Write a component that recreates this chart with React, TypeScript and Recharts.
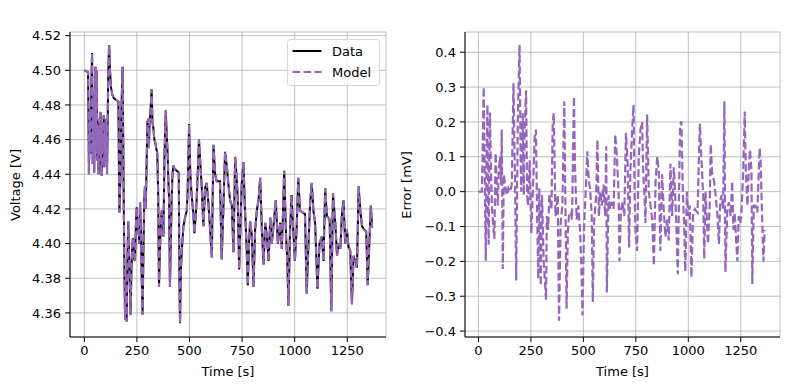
import React from 'react';
import { LineChart, Line, XAxis, YAxis, CartesianGrid, Legend, Label } from 'recharts';

const timeV = [0,18,22,26,30,34,37,40,44,47,50,53,56,59,62,65,68,71,74,77,80,83,86,89,92,95,99,102,105,108,111,114,118,122,127,133,140,150,162,165,167,172,177,182,187,191,194,197,201,205,209,213,217,220,224,228,231,235,241,245,249,253,257,261,265,269,273,277,281,285,288,292,296,300,304,307,310,314,320,324,328,333,338,342,347,351,355,358,363,368,372,376,381,387,392,396,400,403,407,411,415,419,423,430,439,449,452,455,459,463,471,479,487,491,498,504,510,518,523,529,534,539,545,552,558,566,574,582,590,598,606,614,622,629,645,653,661,669,677,685,693,701,709,717,723,729,736,742,748,756,764,771,777,783,788,796,804,812,820,828,836,844,852,860,868,876,884,891,899,910,920,931,939,945,950,959,965,970,974,977,985,993,1001,1009,1017,1025,1038,1049,1057,1065,1073,1081,1089,1097,1108,1118,1129,1137,1145,1153,1166,1174,1182,1193,1201,1209,1217,1224,1232,1240,1248,1256,1264,1272,1280,1288,1296,1304,1312,1320,1331,1340,1347,1356,1362,1368];
const voltage = [4.500,4.499,4.440,4.478,4.452,4.495,4.510,4.446,4.488,4.441,4.470,4.502,4.455,4.500,4.448,4.466,4.440,4.472,4.452,4.476,4.446,4.439,4.468,4.456,4.474,4.444,4.466,4.448,4.472,4.440,4.470,4.500,4.5145,4.500,4.490,4.486,4.484,4.483,4.482,4.440,4.418,4.440,4.480,4.502,4.430,4.380,4.356,4.380,4.355,4.390,4.413,4.392,4.375,4.359,4.385,4.398,4.403,4.392,4.390,4.410,4.421,4.405,4.415,4.400,4.424,4.408,4.380,4.359,4.395,4.425,4.433,4.420,4.445,4.470,4.472,4.455,4.469,4.475,4.489,4.470,4.467,4.460,4.458,4.455,4.452,4.430,4.375,4.390,4.410,4.419,4.412,4.404,4.450,4.477,4.462,4.452,4.435,4.425,4.375,4.400,4.425,4.440,4.445,4.443,4.442,4.441,4.380,4.354,4.385,4.395,4.410,4.415,4.419,4.430,4.469,4.440,4.428,4.418,4.406,4.415,4.425,4.440,4.460,4.445,4.433,4.410,4.432,4.435,4.423,4.408,4.392,4.457,4.440,4.436,4.436,4.391,4.420,4.453,4.445,4.434,4.425,4.422,4.395,4.450,4.440,4.427,4.385,4.410,4.434,4.447,4.419,4.400,4.376,4.400,4.413,4.405,4.375,4.408,4.419,4.425,4.438,4.408,4.388,4.412,4.404,4.390,4.415,4.400,4.410,4.425,4.400,4.412,4.397,4.420,4.442,4.404,4.390,4.364,4.385,4.404,4.428,4.408,4.390,4.408,4.438,4.419,4.418,4.417,4.371,4.398,4.423,4.435,4.419,4.412,4.374,4.400,4.404,4.390,4.432,4.416,4.414,4.361,4.429,4.412,4.393,4.400,4.397,4.416,4.425,4.400,4.408,4.398,4.396,4.365,4.393,4.390,4.386,4.433,4.419,4.410,4.408,4.407,4.376,4.404,4.422,4.409];
// Model overlaps the measured data to within a fraction of a millivolt
const modelVoltage = voltage;

const timeE = [0,16,20,25,30,35,39,43,46,49,52,55,60,65,71,76,79,82,87,92,97,103,108,111,116,121,127,135,143,151,159,167,175,180,188,196,201,204,211,216,220,227,232,236,244,252,260,268,274,279,285,290,297,303,311,322,326,332,338,348,354,359,367,378,384,392,400,409,414,420,426,432,440,446,455,460,468,476,484,490,496,503,511,519,526,532,540,545,551,561,567,574,580,588,596,604,609,612,620,628,636,644,652,660,668,672,679,687,695,703,711,718,724,732,739,744,748,756,764,772,780,785,791,796,804,812,820,828,836,844,852,859,867,875,883,891,899,907,915,923,931,939,944,950,961,967,974,980,986,993,999,1007,1015,1023,1031,1044,1055,1063,1071,1076,1082,1088,1094,1102,1107,1114,1123,1130,1139,1146,1152,1158,1166,1172,1177,1186,1193,1202,1209,1215,1221,1229,1234,1240,1247,1253,1261,1269,1274,1282,1288,1294,1301,1305,1312,1320,1329,1340,1345,1351,1358,1364];
const errorMv = [0.0,0.0,0.10,0.30,0.05,-0.198,0.10,0.249,-0.05,-0.152,0.10,0.227,0.05,-0.05,-0.10,-0.136,0.0,0.111,0.02,-0.04,0.06,0.10,0.02,0.178,-0.222,0.05,0.02,-0.01,0.01,0.0,0.02,0.311,0.0,-0.255,0.22,0.421,0.10,0.0,0.225,-0.01,0.18,0.29,-0.01,-0.04,0.09,-0.12,0.01,0.159,0.178,-0.04,-0.25,0.01,-0.27,-0.01,-0.20,-0.31,-0.07,-0.11,-0.01,-0.05,0.197,0.225,-0.07,-0.01,-0.37,-0.09,-0.04,0.259,-0.01,-0.336,-0.12,-0.06,-0.06,-0.08,0.273,0.08,-0.08,-0.04,-0.11,-0.21,-0.355,-0.11,0.0,0.116,0.03,0.01,-0.07,-0.317,-0.09,-0.01,0.149,-0.07,0.0,-0.04,0.02,-0.07,0.13,-0.289,-0.01,-0.05,-0.03,-0.05,0.164,0.10,-0.01,-0.20,-0.05,-0.03,-0.07,0.169,0.08,-0.16,0.06,0.17,0.249,0.0,-0.11,-0.17,0.10,0.178,0.20,0.06,-0.01,-0.09,0.221,0.0,-0.04,-0.08,-0.212,0.03,0.10,0.06,-0.17,0.05,-0.05,-0.13,-0.08,-0.14,0.08,-0.07,0.07,-0.03,-0.11,-0.237,0.19,0.202,0.0,-0.09,-0.229,0.0,-0.07,-0.04,-0.246,-0.06,-0.05,-0.06,0.195,0.09,-0.01,-0.193,0.0,-0.07,-0.15,-0.04,0.136,0.05,0.03,-0.01,-0.07,-0.15,-0.03,-0.01,-0.05,0.259,-0.23,-0.05,-0.03,-0.07,0.03,-0.11,-0.06,-0.15,-0.20,-0.07,-0.09,-0.07,0.05,0.23,0.06,-0.04,0.06,0.121,0.06,-0.265,-0.04,-0.04,-0.06,0.125,0.08,-0.06,-0.20,-0.11];

const timeTicks = [0, 250, 500, 750, 1000, 1250];
const voltageTicks = [4.36, 4.38, 4.40, 4.42, 4.44, 4.46, 4.48, 4.50, 4.52];
const errorTicks = [-0.4, -0.3, -0.2, -0.1, 0, 0.1, 0.2, 0.3, 0.4];

const seriesNames = ['Data', 'Model'];
const titleText = 'RMSE = 0.11 mV';

const voltRows = timeV.map((t, i) => ({ t, data: voltage[i], model: modelVoltage[i] }));
const errRows = timeE.map((t, i) => ({ t, err: errorMv[i] }));

const FONT = '"DejaVu Sans", sans-serif';
const PURPLE = '#9467bd';
const DASH = '7.7 3.3';
const LW = 2.2;
const tickStyle = { fill: '#000', fontSize: 13, fontFamily: FONT };
const fmtMinus = (s: string) => s.replace('-', '\u2212');

const LegendBox = () => (
  <svg width={93} height={47} style={{ display: 'block' }}>
    <rect x={0.5} y={0.5} width={92} height={46} rx={3} ry={3} fill="rgba(255,255,255,0.8)" stroke="#d6d6d6" />
    <line x1={5.5} x2={34.5} y1={12} y2={12} stroke="#000" strokeWidth={2} />
    <line x1={5.5} x2={34.5} y1={33} y2={33} stroke={PURPLE} strokeWidth={2} strokeDasharray={DASH} />
    <text x={45} y={16.5} fontSize={13} fontFamily={FONT} fill="#000">{seriesNames[0]}</text>
    <text x={45} y={37.5} fontSize={13} fontFamily={FONT} fill="#000">{seriesNames[1]}</text>
  </svg>
);

export default function App() {
  return (
    <div style={{ position: 'absolute', left: 0, top: 0, width: 790, height: 390, background: '#fff' }}>
      <div style={{ position: 'absolute', left: 0, top: 0 }}>
        <LineChart width={400} height={390} data={voltRows} margin={{ top: 32, right: 14, bottom: 0, left: 0 }}>
          <CartesianGrid stroke="#b0b0b0" strokeWidth={0.8} />
          <XAxis dataKey="t" type="number" domain={[-68, 1434]} allowDataOverflow ticks={timeTicks} interval={0}
            height={53} tick={tickStyle} tickSize={5} tickMargin={4} tickLine={{ stroke: '#000' }} axisLine={{ stroke: '#000' }}>
            <Label content={(p: any) => (
              <text x={p.viewBox.x + p.viewBox.width / 2} y={376} textAnchor="middle" fontSize={13} fontFamily={FONT} fill="#000">Time [s]</text>
            )} />
          </XAxis>
          <XAxis xAxisId="top" orientation="top" type="number" domain={[0, 1]} height={0} tick={false} tickLine={false} axisLine={{ stroke: '#000' }} />
          <YAxis type="number" domain={[4.3461, 4.5221]} allowDataOverflow ticks={voltageTicks} interval={0} width={70}
            tick={tickStyle} tickSize={5} tickMargin={4} tickLine={{ stroke: '#000' }} axisLine={{ stroke: '#000' }}
            tickFormatter={(v: number) => v.toFixed(2)}>
            <Label content={() => (
              <text x={20} y={185} transform="rotate(-90 20 185)" textAnchor="middle" fontSize={13} fontFamily={FONT} fill="#000">Voltage [V]</text>
            )} />
          </YAxis>
          <YAxis yAxisId="right" orientation="right" type="number" domain={[0, 1]} width={0} tick={false} tickLine={false} axisLine={{ stroke: '#000' }} />
          <Legend content={() => <LegendBox />} wrapperStyle={{ left: 287, top: 39, width: 93 }} layout="horizontal" verticalAlign="middle" align="center" />
          <Line dataKey="data" name={seriesNames[0]} stroke="#000" strokeWidth={2} dot={false} isAnimationActive={false} />
          <Line dataKey="model" name={seriesNames[1]} stroke={PURPLE} strokeWidth={LW} strokeDasharray={DASH} dot={false} isAnimationActive={false} />
        </LineChart>
      </div>
      <div style={{ position: 'absolute', left: 400, top: 0 }}>
        <LineChart width={390} height={390} data={errRows} margin={{ top: 32, right: 10, bottom: 0, left: 0 }}>
          <CartesianGrid stroke="#b0b0b0" strokeWidth={0.8} />
          <XAxis dataKey="t" type="number" domain={[-64, 1437]} allowDataOverflow ticks={timeTicks} interval={0}
            height={53} tick={tickStyle} tickSize={5} tickMargin={4} tickLine={{ stroke: '#000' }} axisLine={{ stroke: '#000' }}>
            <Label content={(p: any) => (
              <text x={p.viewBox.x + p.viewBox.width / 2} y={376} textAnchor="middle" fontSize={13} fontFamily={FONT} fill="#000">Time [s]</text>
            )} />
          </XAxis>
          <XAxis xAxisId="top" orientation="top" type="number" domain={[0, 1]} height={0} tick={false} tickLine={false} axisLine={{ stroke: '#000' }}>
            <Label content={(p: any) => (
              <text x={p.viewBox.x + p.viewBox.width / 2} y={24} textAnchor="middle" fontSize={16.5} fontFamily={FONT} fill="#000">{titleText}</text>
            )} />
          </XAxis>
          <YAxis type="number" domain={[-0.417, 0.458]} allowDataOverflow ticks={errorTicks} interval={0} width={65}
            tick={tickStyle} tickSize={5} tickMargin={4} tickLine={{ stroke: '#000' }} axisLine={{ stroke: '#000' }}
            tickFormatter={(v: number) => fmtMinus(v.toFixed(1))}>
            <Label content={() => (
              <text x={11} y={185} transform="rotate(-90 11 185)" textAnchor="middle" fontSize={13} fontFamily={FONT} fill="#000">Error [mV]</text>
            )} />
          </YAxis>
          <YAxis yAxisId="right" orientation="right" type="number" domain={[0, 1]} width={0} tick={false} tickLine={false} axisLine={{ stroke: '#000' }} />
          <Line dataKey="err" stroke={PURPLE} strokeWidth={LW} strokeDasharray={DASH} dot={false} isAnimationActive={false} />
        </LineChart>
      </div>
    </div>
  );
}
